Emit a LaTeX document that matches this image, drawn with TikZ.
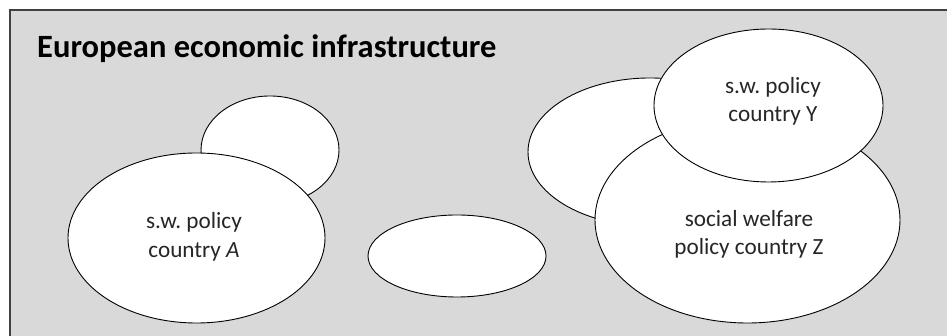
\documentclass[tikz,border=0pt]{standalone}
\usepackage{fontspec}
\setmainfont{Carlito}
\usetikzlibrary{shapes.geometric}
\definecolor{bg}{RGB}{217,217,217}
\definecolor{frame}{RGB}{64,64,64}
\tikzset{
  blob/.style={ellipse, draw=black, fill=white, line width=0.9pt, inner sep=0pt},
  lbl/.style={anchor=base, inner sep=0pt, font=\fontsize{23.2}{28}\selectfont, text=black!85},
}
\begin{document}
\frenchspacing
\begin{tikzpicture}[x=1pt,y=1pt]
\useasboundingbox (0,0) rectangle (947,336);
\fill[white] (0,0) rectangle (947,336);
\fill[bg] (10,-5) rectangle (952,326);
\draw[frame, line width=1.2pt] (10,-5) -- (10,326) -- (952,326);
\node[anchor=base west, inner sep=0pt, font=\fontsize{32.5}{38}\selectfont\bfseries] (title) at (37,278) {European economic infrastructure};
% left group
\node[blob, minimum width=138, minimum height=108] (b1) at (270,186) {};
\node[blob, minimum width=257, minimum height=170] (A) at (196.5,98) {};
\node[lbl] (A1) at (194,107) {s.w. policy};
\node[lbl] (A2) at (194,78) {country \textit{A}};
% middle
\node[blob, minimum width=178, minimum height=82] (m) at (457,80) {};
% right group
\node[blob, minimum width=244, minimum height=148] (b2) at (650,184) {};
\node[blob, minimum width=305, minimum height=206] (Z) at (747.5,116) {};
\node[blob, minimum width=229, minimum height=153] (Y) at (768.5,230.5) {};
\node[lbl] (Y1) at (773,242) {s.w. policy};
\node[lbl] (Y2) at (773,214) {country Y};
\node[lbl] (Z1) at (749,109) {social welfare};
\node[lbl] (Z2) at (749,81) {policy country Z};
\end{tikzpicture}
\end{document}
